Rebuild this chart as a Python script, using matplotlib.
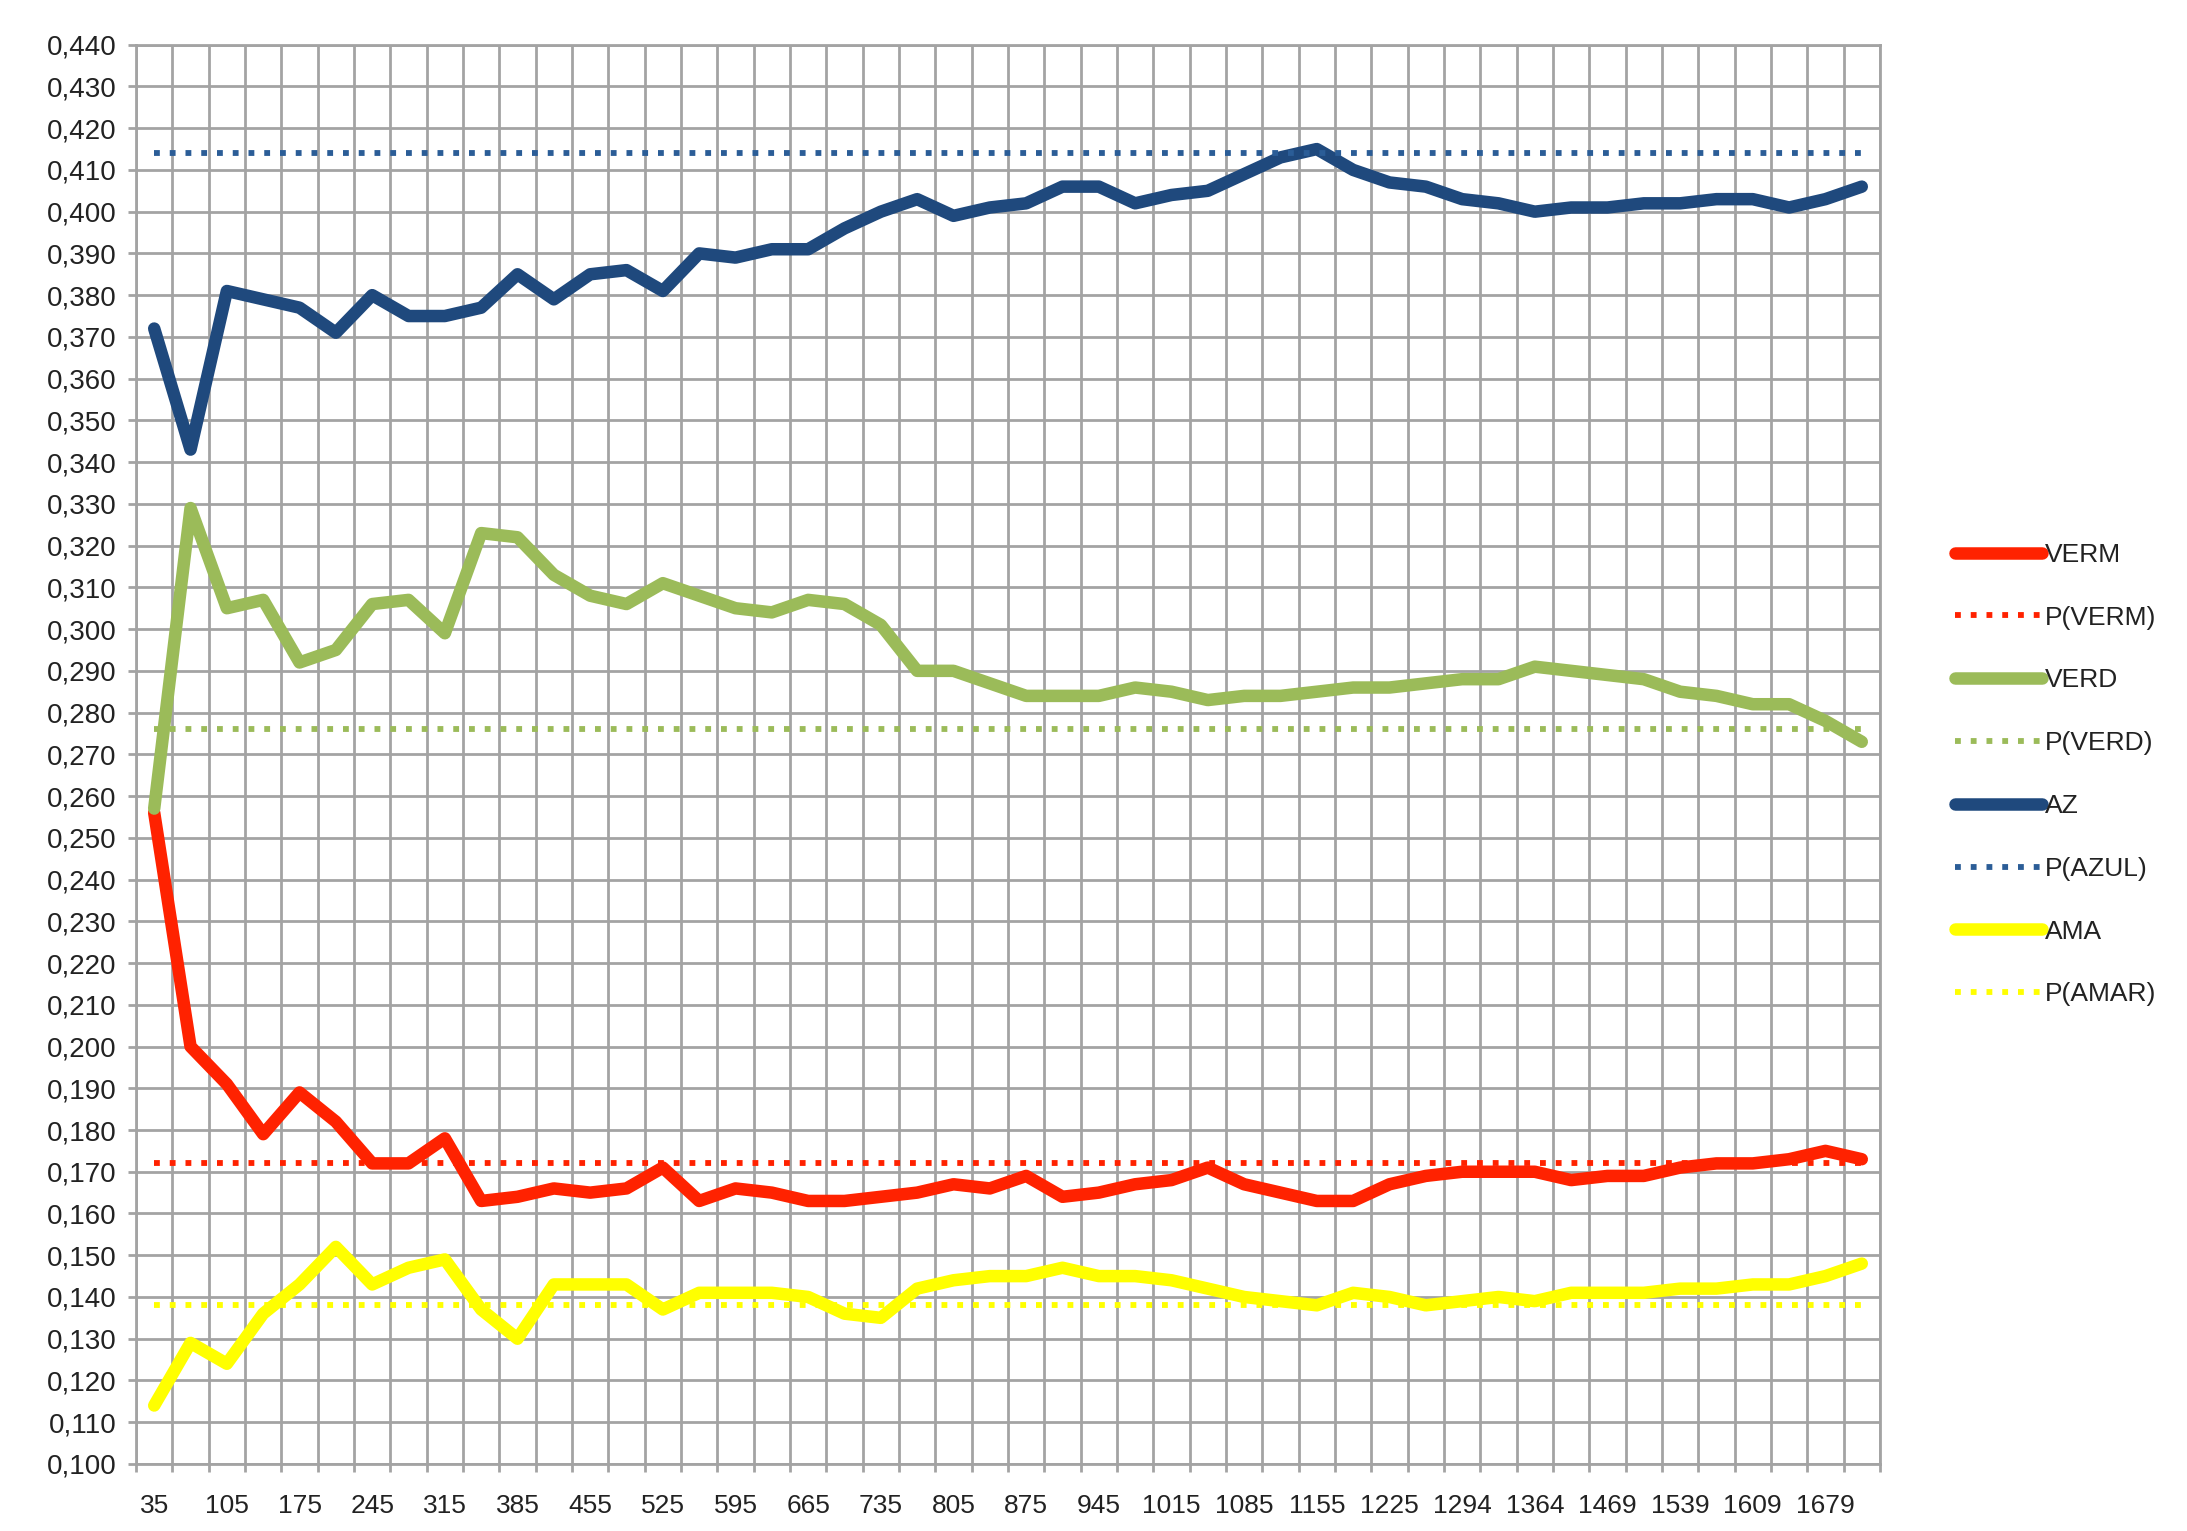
import matplotlib
matplotlib.use("Agg")
import matplotlib.pyplot as plt
import matplotlib.ticker as ticker
import numpy as np

# Categories (number of draws)
categories = [35, 70, 105, 140, 175, 210, 245, 280, 315, 350, 385, 420, 455, 490,
              525, 560, 595, 630, 665, 700, 735, 770, 805, 840, 875, 910, 945, 980,
              1015, 1050, 1085, 1120, 1155, 1190, 1225, 1259, 1294, 1329, 1364, 1434,
              1469, 1504, 1539, 1574, 1609, 1644, 1679, 1714]

# Observed relative frequencies
verm = [0.256, 0.200, 0.191, 0.179, 0.189, 0.182, 0.172, 0.172, 0.178, 0.163,
        0.164, 0.166, 0.165, 0.166, 0.171, 0.163, 0.166, 0.165, 0.163, 0.163,
        0.164, 0.165, 0.167, 0.166, 0.169, 0.164, 0.165, 0.167, 0.168, 0.171,
        0.167, 0.165, 0.163, 0.163, 0.167, 0.169, 0.170, 0.170, 0.170, 0.168,
        0.169, 0.169, 0.171, 0.172, 0.172, 0.173, 0.175, 0.173]
verd = [0.257, 0.329, 0.305, 0.307, 0.292, 0.295, 0.306, 0.307, 0.299, 0.323,
        0.322, 0.313, 0.308, 0.306, 0.311, 0.308, 0.305, 0.304, 0.307, 0.306,
        0.301, 0.290, 0.290, 0.287, 0.284, 0.284, 0.284, 0.286, 0.285, 0.283,
        0.284, 0.284, 0.285, 0.286, 0.286, 0.287, 0.288, 0.288, 0.291, 0.290,
        0.289, 0.288, 0.285, 0.284, 0.282, 0.282, 0.278, 0.273]
az = [0.372, 0.343, 0.381, 0.379, 0.377, 0.371, 0.380, 0.375, 0.375, 0.377,
      0.385, 0.379, 0.385, 0.386, 0.381, 0.390, 0.389, 0.391, 0.391, 0.396,
      0.400, 0.403, 0.399, 0.401, 0.402, 0.406, 0.406, 0.402, 0.404, 0.405,
      0.409, 0.413, 0.415, 0.410, 0.407, 0.406, 0.403, 0.402, 0.400, 0.401,
      0.401, 0.402, 0.402, 0.403, 0.403, 0.401, 0.403, 0.406]
ama = [0.114, 0.129, 0.124, 0.136, 0.143, 0.152, 0.143, 0.147, 0.149, 0.137,
       0.130, 0.143, 0.143, 0.143, 0.137, 0.141, 0.141, 0.141, 0.140, 0.136,
       0.135, 0.142, 0.144, 0.145, 0.145, 0.147, 0.145, 0.145, 0.144, 0.142,
       0.140, 0.139, 0.138, 0.141, 0.140, 0.138, 0.139, 0.140, 0.139, 0.141,
       0.141, 0.141, 0.142, 0.142, 0.143, 0.143, 0.145, 0.148]

# Theoretical probabilities
p_verm = 0.172
p_verd = 0.276
p_azul = 0.414
p_amar = 0.138

n = len(categories)
x = np.arange(n)

fig = plt.figure(figsize=(21.87, 15.31), dpi=100)
ax = fig.add_axes([0.0622, 0.0438, 0.7974, 0.927])

solid_lw = 9.0
dot_lw = 4.2
dots = (0, (1, 1.7))
solid_kw = dict(lw=solid_lw, solid_capstyle='round', solid_joinstyle='round')

ax.plot(x, verm, color='#FF2200', label='VERM', **solid_kw)
ax.plot(x, [p_verm] * n, color='#FF2200', lw=dot_lw, ls=dots, label='P(VERM)')
ax.plot(x, verd, color='#9BBB59', label='VERD', **solid_kw)
ax.plot(x, [p_verd] * n, color='#9BBB59', lw=dot_lw, ls=dots, label='P(VERD)')
ax.plot(x, az, color='#1F497D', label='AZ', **solid_kw)
ax.plot(x, [p_azul] * n, color='#2B5D97', lw=dot_lw, ls=dots, label='P(AZUL)')
ax.plot(x, ama, color='#FFFF00', label='AMA', **solid_kw)
ax.plot(x, [p_amar] * n, color='#FFFF00', lw=dot_lw, ls=dots, label='P(AMAR)')

# Axes limits and grid
ax.set_xlim(-0.5, n - 0.5)
ax.set_ylim(0.100, 0.440)
ax.yaxis.set_major_locator(ticker.MultipleLocator(0.01))
ax.yaxis.set_major_formatter(ticker.FuncFormatter(lambda v, p: f"{v:.3f}".replace('.', ',')))

ax.set_xticks(np.arange(n + 1) - 0.5)
ax.set_xticklabels([])
ax.set_xticks(x[::2], [str(c) for c in categories[::2]], minor=True)

grid_col = '#A3A3A3'
ax.grid(True, which='major', color=grid_col, lw=2.0)
ax.set_axisbelow(True)
for s in ax.spines.values():
    s.set_color(grid_col)
    s.set_linewidth(2.0)

ax.tick_params(axis='both', which='major', direction='out', length=6, width=2,
               color=grid_col, labelsize=20, labelcolor='#222222')
ax.tick_params(axis='y', pad=8)
ax.tick_params(axis='x', which='minor', length=0, pad=22, labelsize=19, labelcolor='#222222')
for lab in ax.get_yticklabels() + ax.get_xticklabels(minor=True):
    lab.set_family('Liberation Sans')

# Legend on the right
leg = fig.legend(loc='center left', bbox_to_anchor=(0.888, 0.494), frameon=False,
                 handlelength=3.3, handletextpad=0.1, labelspacing=1.47,
                 borderpad=0, prop={'family': 'Liberation Sans', 'size': 19})
for t in leg.get_texts():
    t.set_color('#222222')

fig.savefig('out.png', dpi=100, facecolor='white')
